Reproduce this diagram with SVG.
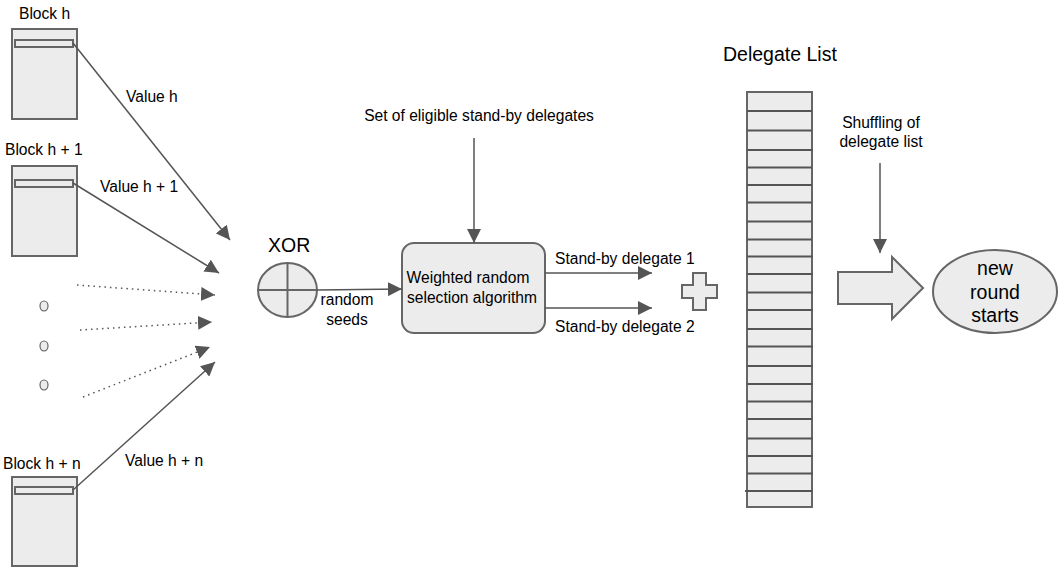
<svg xmlns="http://www.w3.org/2000/svg" width="1062" height="571" viewBox="0 0 1062 571">
<defs>
<marker id="ah" viewBox="0 0 10 10" refX="10" refY="5" markerWidth="14" markerHeight="14" markerUnits="userSpaceOnUse" orient="auto">
<path d="M0,0 L10,5 L0,10 z" fill="#555"/>
</marker>
<style>
text{font-family:"Liberation Sans",Arial,sans-serif;fill:#000}
.t{font-size:15.6px}
.big{font-size:19.5px}
.sh{fill:#ececec;stroke:#666;stroke-width:2}
.conn{stroke:#555;stroke-width:1.5;fill:none;marker-end:url(#ah)}
.dot{stroke:#555;stroke-width:1.5;stroke-dasharray:1.5 4;fill:none;marker-end:url(#ah)}
.row line{stroke:#555;stroke-width:2}
</style>
</defs>
<rect width="1062" height="571" fill="#fff"/>

<g id="block-h">
<rect class="sh" x="12" y="29" width="65" height="90"/>
<rect class="sh" x="15" y="40" width="58" height="7" stroke-width="1.5"/>
<text class="t" x="19" y="19">Block h</text>
</g>
<g id="block-h1">
<rect class="sh" x="12" y="166" width="65" height="90"/>
<rect class="sh" x="15" y="180" width="58" height="7" stroke-width="1.5"/>
<text class="t" x="5" y="155">Block h + 1</text>
</g>
<g id="block-hn">
<rect class="sh" x="12" y="477" width="65" height="89"/>
<rect class="sh" x="15" y="487" width="58" height="7" stroke-width="1.5"/>
<text class="t" x="3" y="469">Block h + n</text>
</g>
<g id="ellipsis">
<ellipse cx="44" cy="306" rx="4" ry="5" fill="#ececec" stroke="#666" stroke-width="1.2"/>
<ellipse cx="44" cy="346" rx="4" ry="5" fill="#ececec" stroke="#666" stroke-width="1.2"/>
<ellipse cx="44" cy="385" rx="4" ry="5" fill="#ececec" stroke="#666" stroke-width="1.2"/>
</g>

<g id="xor">
<text class="big" x="268" y="252">XOR</text>
<ellipse class="sh" cx="287.5" cy="290" rx="29.5" ry="27"/>
<line x1="258" y1="290" x2="317" y2="290" stroke="#666" stroke-width="2"/>
<line x1="287.5" y1="263" x2="287.5" y2="317" stroke="#666" stroke-width="2"/>
</g>

<g id="algorithm">
<rect class="sh" x="402" y="243" width="143" height="90" rx="12"/>
<text class="t" x="468" y="283" text-anchor="middle">Weighted random</text>
<text class="t" x="472" y="303" text-anchor="middle">selection algorithm</text>
</g>

<g id="eligible-label">
<text class="t" x="479" y="121" text-anchor="middle">Set of eligible stand-by delegates</text>
</g>

<g id="plus">
<path class="sh" d="M693,273 H706 V285 H717 V298 H706 V310 H693 V298 H682 V285 H693 Z"/>
</g>

<g id="delegate-list">
<text class="big" x="723" y="61">Delegate List</text>
<rect class="sh" x="747" y="92" width="65" height="415"/>
<g class="row">
<line x1="747" x2="812" y1="111" y2="111"/>
<line x1="747" x2="812" y1="130.5" y2="130.5"/>
<line x1="747" x2="813" y1="150" y2="150"/>
<line x1="747" x2="812" y1="167.5" y2="167.5"/>
<line x1="747" x2="812" y1="185" y2="185"/>
<line x1="747" x2="812" y1="202.5" y2="202.5"/>
<line x1="747" x2="812" y1="221.5" y2="221.5"/>
<line x1="747" x2="812" y1="239.5" y2="239.5"/>
<line x1="747" x2="813" y1="256.5" y2="256.5"/>
<line x1="747" x2="813" y1="274" y2="274"/>
<line x1="747" x2="813" y1="292.5" y2="292.5"/>
<line x1="747" x2="813" y1="310" y2="310"/>
<line x1="747" x2="813" y1="329" y2="329"/>
<line x1="747" x2="813" y1="346.5" y2="346.5"/>
<line x1="747" x2="813" y1="366" y2="366"/>
<line x1="747" x2="813" y1="384" y2="384"/>
<line x1="747" x2="813" y1="401.5" y2="401.5"/>
<line x1="747" x2="813" y1="419" y2="419"/>
<line x1="747" x2="813" y1="438.5" y2="438.5"/>
<line x1="747" x2="813" y1="456" y2="456"/>
<line x1="747" x2="813" y1="473.5" y2="473.5"/>
<line x1="745" x2="813" y1="491" y2="491"/>
</g>
</g>

<g id="shuffle-label">
<text class="t" x="881" y="128" text-anchor="middle">Shuffling of</text>
<text class="t" x="881" y="147" text-anchor="middle">delegate list</text>
</g>

<g id="big-arrow">
<path class="sh" d="M838,272 H892 V257 L923,288 L892,319 V304 H838 Z"/>
</g>

<g id="new-round">
<ellipse class="sh" cx="995" cy="291.5" rx="62" ry="41.5"/>
<text class="big" x="995" y="275" text-anchor="middle">new</text>
<text class="big" x="995" y="299" text-anchor="middle">round</text>
<text class="big" x="995" y="322" text-anchor="middle">starts</text>
</g>

<g id="connectors">
<line class="conn" x1="73" y1="43" x2="230" y2="240"/>
<line class="conn" x1="73" y1="183" x2="219" y2="273"/>
<line class="dot" x1="77" y1="285" x2="215" y2="295"/>
<line class="dot" x1="80" y1="330" x2="212" y2="322"/>
<line class="dot" x1="83" y1="397" x2="210" y2="347"/>
<line class="conn" x1="73" y1="490" x2="215" y2="362"/>
<line class="conn" x1="317" y1="290" x2="402" y2="289"/>
<line class="conn" x1="474" y1="138" x2="474" y2="243"/>
<line class="conn" x1="545" y1="273" x2="652" y2="273"/>
<line class="conn" x1="545" y1="308" x2="652" y2="308"/>
<line class="conn" x1="880" y1="163" x2="880" y2="253"/>
<text class="t" x="126" y="102">Value h</text>
<text class="t" x="100" y="192">Value h + 1</text>
<text class="t" x="125" y="466">Value h + n</text>
<text class="t" x="347" y="305" text-anchor="middle">random</text>
<text class="t" x="347" y="325" text-anchor="middle">seeds</text>
<text class="t" x="555" y="264">Stand-by delegate 1</text>
<text class="t" x="555" y="332">Stand-by delegate 2</text>
</g>
</svg>
